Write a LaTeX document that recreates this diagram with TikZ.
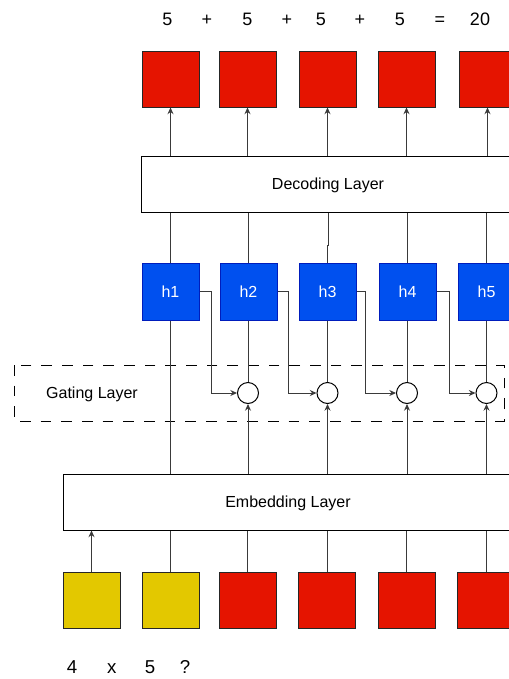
\documentclass[tikz,border=0pt]{standalone}
\usepackage{fontspec}
\setmainfont{Liberation Sans}
\usetikzlibrary{arrows.meta}
\definecolor{boxred}{HTML}{E51400}
\definecolor{boxyellow}{HTML}{E3C800}
\definecolor{boxblue}{HTML}{0050EF}
\definecolor{boxblueline}{HTML}{001DBC}
\definecolor{wiregray}{HTML}{3A3A3A}

\begin{document}
\begin{tikzpicture}[x=0.75pt,y=-0.75pt,
  cell/.style={draw=black!85, line width=0.75pt, minimum width=42.75pt, minimum height=42pt, inner sep=0pt},
  redcell/.style={cell, fill=boxred},
  yellowcell/.style={cell, fill=boxyellow},
  hcell/.style={cell, fill=boxblue, draw=boxblueline, minimum height=42.75pt, text=white, font=\fontsize{12}{14}\selectfont},
  layer/.style={draw=black, line width=0.75pt, fill=white, minimum height=42pt, inner sep=0pt, text depth=0pt, font=\fontsize{12}{14}\selectfont},
  gate/.style={circle, draw=black, line width=0.75pt, fill=white, minimum size=15.75pt, inner sep=0pt},
  wire/.style={draw=wiregray, line width=0.75pt},
  flow/.style={wire, -{Stealth[length=5pt,width=4.5pt]}},
  sumtxt/.style={font=\fontsize{13.5}{16}\selectfont, inner sep=0pt, anchor=base},
  gatebox/.style={draw=black, line width=0.75pt, dash pattern=on 8pt off 7.5pt},
]
\clip (0,0) rectangle (509,679);

% output tokens
\node[redcell] (o1) at (170.5,79) {};
\node[redcell] (o2) at (247.5,79) {};
\node[redcell] (o3) at (327.5,79) {};
\node[redcell] (o4) at (406.5,79) {};
\node[redcell] (o5) at (487.5,79) {};

% sum read above the outputs
\node[sumtxt] (s1) at (167.5,25) {5};
\node[sumtxt] (s2) at (207,25) {+};
\node[sumtxt] (s3) at (247.5,25) {5};
\node[sumtxt] (s4) at (287,25) {+};
\node[sumtxt] (s5) at (321,25) {5};
\node[sumtxt] (s6) at (360,25) {+};
\node[sumtxt] (s7) at (400,25) {5};
\node[sumtxt] (s8) at (440,25) {=};
\node[sumtxt] (s9) at (480,25) {20};

% decoding layer
\node[layer, minimum width=280.5pt] (dec) at (328,184) {Decoding Layer};

% hidden states
\node[hcell] (h1) at (170.5,291.5) {h1};
\node[hcell] (h2) at (248.5,291.5) {h2};
\node[hcell] (h3) at (327.5,291.5) {h3};
\node[hcell] (h4) at (407.5,291.5) {h4};
\node[hcell] (h5) at (486.5,291.5) {h5};

% gating layer
\draw[gatebox] (14,365) rectangle (504,421);
\node[inner sep=0pt, text depth=0pt, font=\fontsize{12}{14}\selectfont] (gl) at (92,393) {Gating Layer};
\node[gate] (g2) at (248,393) {};
\node[gate] (g3) at (327.5,393) {};
\node[gate] (g4) at (407,393) {};
\node[gate] (g5) at (486.5,393) {};

% embedding layer
\node[layer, minimum width=337.5pt] (emb) at (288,502) {Embedding Layer};

% input tokens
\node[yellowcell] (i1) at (91.5,600.5) {};
\node[yellowcell] (i2) at (170.5,600.5) {};
\node[redcell] (i3) at (247.5,600.5) {};
\node[redcell] (i4) at (327,600.5) {};
\node[redcell] (i5) at (406.5,600.5) {};
\node[redcell] (i6) at (486,600.5) {};

% question below the inputs
\node[sumtxt, font=\fontsize{14}{16}\selectfont] (q1) at (72,673.3) {4};
\node[sumtxt, font=\fontsize{14}{16}\selectfont] (q2) at (111.7,673.3) {x};
\node[sumtxt, font=\fontsize{14}{16}\selectfont] (q3) at (150,673.3) {5};
\node[sumtxt, font=\fontsize{14}{16}\selectfont] (q4) at (185,673.3) {?};

% inputs into the embedding layer
\draw[flow] (i1.north) -- (i1.north |- emb.south);
\foreach \k in {2,...,6} \draw[wire] (i\k.north) -- (i\k.north |- emb.south);

% embedding layer up to the gates
\draw[wire] (emb.north -| h1) -- (h1.south);
\foreach \k in {2,...,5} \draw[flow] (emb.north -| g\k) -- (g\k.south);

% hidden states down to the gates
\foreach \k in {2,...,5} \draw[wire] (h\k.south -| g\k) -- (g\k.north);

% recurrent links into the next gate
\draw[flow] (h1.east) -- ++(12,0) |- (g2.west);
\draw[flow] (h2.east) -- ++(11,0) |- (g3.west);
\draw[flow] (h3.east) -- ++(9,0) |- (g4.west);
\draw[flow] (h4.east) -- ++(13,0) |- (g5.west);

% hidden states up to the decoding layer
\coordinate (jog) at (328.5,245);
\draw[wire] (h1.north) -- (h1.north |- dec.south);
\draw[wire] (h2.north) -- (h2.north |- dec.south);
\draw[wire] (h3.north) -- (h3.north |- jog) -- (jog) -- (jog |- dec.south);
\draw[wire] (h4.north) -- (h4.north |- dec.south);
\draw[wire] (h5.north) -- (h5.north |- dec.south);

% decoding layer up to the outputs
\foreach \k in {1,...,5} \draw[flow] (dec.north -| o\k) -- (o\k.south);
\end{tikzpicture}
\end{document}
